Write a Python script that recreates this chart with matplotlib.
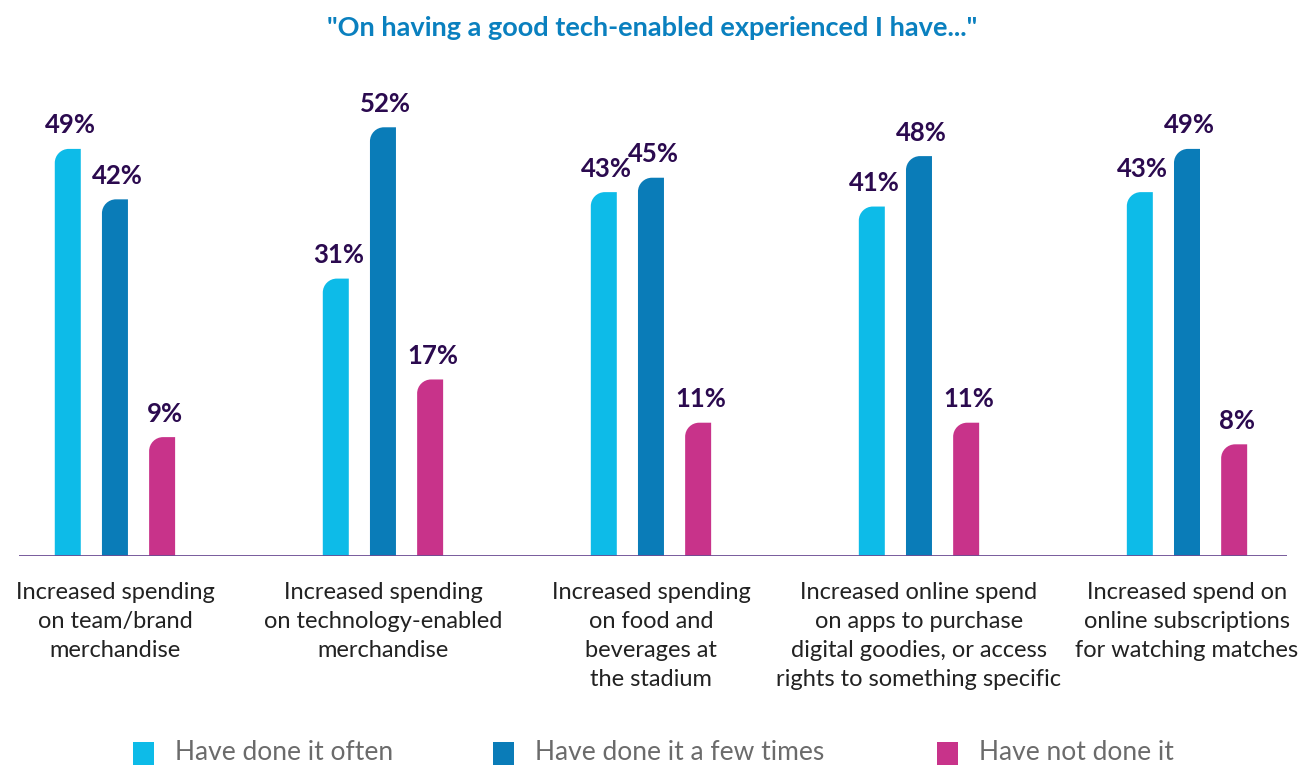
import numpy as np
import matplotlib.pyplot as plt
from matplotlib.path import Path
from matplotlib.patches import PathPatch, Rectangle

plt.rcParams['font.family'] = ['Lato', 'DejaVu Sans']

categories = [
    "Increased spending\non team/brand\nmerchandise",
    "Increased spending\non technology-enabled\nmerchandise",
    "Increased spending\non food and\nbeverages at\nthe stadium",
    "Increased online spend\non apps to purchase\ndigital goodies, or access\nrights to something specific",
    "Increased spend on\nonline subscriptions\nfor watching matches",
]
series_names = ["Have done it often", "Have done it a few times", "Have not done it"]
often = [49, 31, 43, 41, 43]
few_times = [42, 52, 45, 48, 49]
not_done = [9, 17, 11, 11, 8]
colors = ["#0dbbe8", "#0a7cb8", "#c8338a"]

title = '"On having a good tech-enabled experienced I have..."'

base = -7.5  # bars start below zero in the original

fig = plt.figure(figsize=(13.04, 7.65), dpi=100)
ax = fig.add_axes([19 / 1304, (765 - 556) / 765, (1287 - 19) / 1304, (556 - 61) / 765])
ax.set_xlim(-0.358, (1287 - 115) / 268)
ax.set_ylim(base, 61.2)
ax.axis("off")
ax.axhline(base, color="#6b4c93", lw=2, zorder=3)

x = np.arange(len(categories))
offset = 0.176
width = 0.097

# pixel scale for circular corners
p0 = ax.transData.transform((0, 0))
p1 = ax.transData.transform((1, 1))
px_x = p1[0] - p0[0]
px_y = p1[1] - p0[1]
r_px = 14
rx = r_px / px_x
ry = r_px / px_y
k = 0.5523


def leaf_bar(x0, x1, h, color):
    verts = [(x0, base), (x0, h - ry),
             (x0, h - ry + k * ry), (x0 + rx - k * rx, h), (x0 + rx, h),
             (x1, h), (x1, base), (x0, base)]
    codes = [Path.MOVETO, Path.LINETO, Path.CURVE4, Path.CURVE4, Path.CURVE4,
             Path.LINETO, Path.LINETO, Path.CLOSEPOLY]
    ax.add_patch(PathPatch(Path(verts, codes), facecolor=color, edgecolor="none", zorder=2))


for i, vals in enumerate([often, few_times, not_done]):
    for j, v in enumerate(vals):
        cx = x[j] + (i - 1) * offset
        leaf_bar(cx - width / 2, cx + width / 2, v, colors[i])
        ax.text(cx + 0.01, v + 1.6, f"{v}%", ha="center", va="bottom",
                fontsize=18.5, fontweight="bold", color="#2b0a4f")

for j, c in enumerate(categories):
    ax.text(x[j], base - 3.6, c, ha="center", va="top", fontsize=17,
            color="#222222", linespacing=1.48)

fig.text(652 / 1304, 1 - 28 / 765, title, ha="center", va="center",
         fontsize=19.5, fontweight="bold", color="#0a80bf")

legend_x = [133, 493, 937]
for name, col, lx in zip(series_names, colors, legend_x):
    fig.patches.append(Rectangle((lx / 1304, 0), 21 / 1304, 23 / 765,
                                 transform=fig.transFigure, facecolor=col,
                                 edgecolor="none", figure=fig))
    fig.text((lx + 42) / 1304, 1 - 752 / 765, name, ha="left", va="center",
             fontsize=19, color="#6b6b6b")

fig.savefig("out.png", dpi=100)
